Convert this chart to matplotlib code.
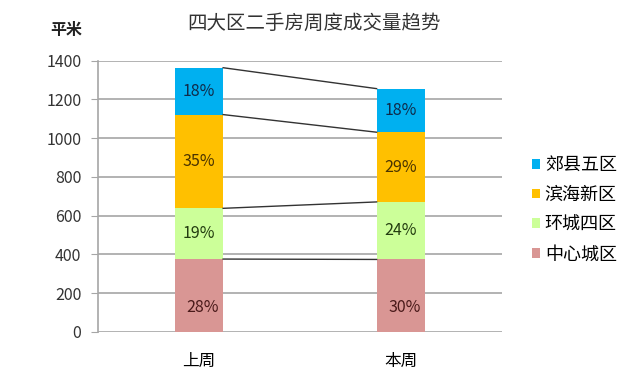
import numpy as np
import matplotlib.pyplot as plt

plt.rcParams['font.family'] = ['Noto Sans CJK SC', 'DejaVu Sans']

weeks = ['上周', '本周']
regions = ['中心城区', '环城四区', '滨海新区', '郊县五区']
values = {
    '中心城区': [376, 374],
    '环城四区': [262, 297],
    '滨海新区': [484, 360],
    '郊县五区': [242, 225],
}
pct_labels = {
    '中心城区': ['28%', '30%'],
    '环城四区': ['19%', '24%'],
    '滨海新区': ['35%', '29%'],
    '郊县五区': ['18%', '18%'],
}
colors = ['#D99694', '#CCFF99', '#FFC000', '#00B0F0']
text_colors = ['#4A1A1A', '#233D10', '#4A3300', '#0F2B4A']

fig = plt.figure(figsize=(6.28, 3.75), dpi=100)
ax = fig.add_axes([0.156, 0.115, 0.643, 0.723])

x = np.arange(len(weeks))
w = 0.24
bottom = np.zeros(len(weeks))
handles = []
for k, (reg, c, tc) in enumerate(zip(regions, colors, text_colors)):
    v = np.array(values[reg], dtype=float)
    b = ax.bar(x, v, w, bottom=bottom, color=c, zorder=3, label=reg)
    handles.append(b)
    # bottom labels sit a bit lower and to the right, like in the original
    dx, dy = (0.02, -60) if k == 0 else (0, 0)
    for i in range(len(weeks)):
        ax.text(x[i] + dx, bottom[i] + v[i] / 2 + dy, pct_labels[reg][i], ha='center',
                va='center', fontsize=11.5, color=tc, zorder=4)
    bottom = bottom + v
    # connector lines between the stacks
    ax.plot([x[0] + w / 2, x[1] - w / 2], [bottom[0], bottom[1]],
            color='#333333', lw=1, zorder=4)

ax.set_xlim(-0.5, 1.5)
ax.set_ylim(0, 1400)
ax.set_yticks(np.arange(0, 1401, 200))
ax.set_xticks(x)
ax.set_xticklabels(weeks, fontsize=12)
ax.yaxis.grid(True, color='#A6A6A6', lw=1.2, zorder=0)
for s in ['top', 'right', 'bottom']:
    ax.spines[s].set_visible(False)
ax.spines['left'].set_color('#A6A6A6')
ax.spines['left'].set_linewidth(1.2)
ax.tick_params(axis='y', length=5, color='#A6A6A6', labelsize=11.5, labelcolor='#333333', pad=7)
ax.tick_params(axis='x', length=0, pad=15)

fig.text(0.5, 0.937, '四大区二手房周度成交量趋势', ha='center', va='center', fontsize=14, color='#333333')
fig.text(0.105, 0.92, '平米', ha='center', va='center', fontsize=11.5, fontweight='bold', color='#222222')

leg = ax.legend(handles[::-1], regions[::-1], loc='center left', bbox_to_anchor=(1.035, 0.45),
                frameon=False, fontsize=13, handlelength=0.45, handleheight=0.45,
                handletextpad=0.25, labelspacing=0.65)

fig.savefig('out.png', dpi=100)
